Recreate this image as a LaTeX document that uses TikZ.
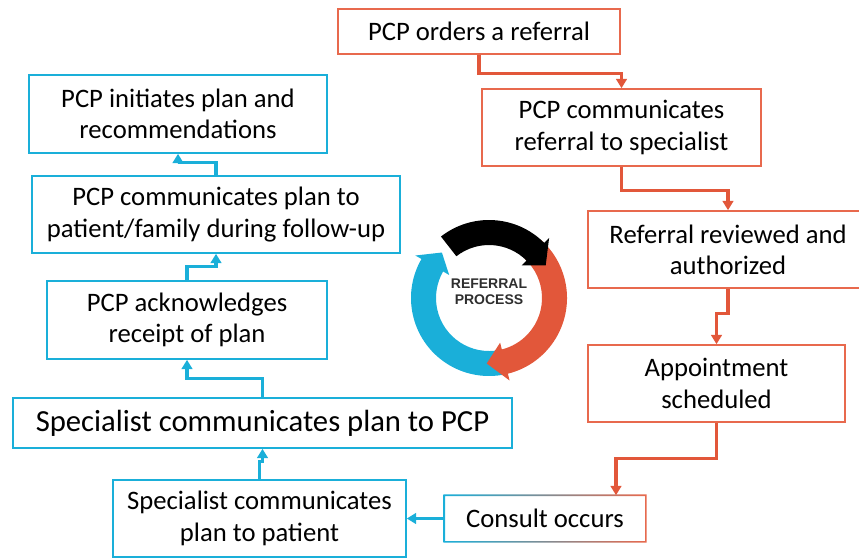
\documentclass[tikz,border=0pt]{standalone}
\usepackage{fontspec}
\setmainfont{Carlito}
\newfontfamily\cyclefont{Liberation Sans}
\usetikzlibrary{arrows.meta,calc}

\definecolor{refred}{HTML}{E2573A}
\definecolor{boxred}{HTML}{E8694D}
\definecolor{refblue}{HTML}{1AAFD9}
\definecolor{cyctext}{HTML}{2E2E2E}

\tikzset{
  redbox/.style={draw=boxred, line width=1.2pt, align=center, inner sep=0pt,
    font=\fontsize{20}{23.5}\selectfont},
  bluebox/.style={redbox, draw=refblue},
  redline/.style={draw=refred, line width=2.5pt, -{Triangle[width=8pt,length=7pt]}},
  blueline/.style={redline, draw=refblue}
}

\begin{document}
\begin{tikzpicture}[x=0.75pt,y=-0.75pt]
  \useasboundingbox (0,0) rectangle (859,558);

  % referral side
  \node[redbox, minimum width=211.5pt, minimum height=33.75pt] (orders) at (479,31.5) {PCP orders a referral};
  \node[redbox, minimum width=209.25pt, minimum height=57.75pt] (commRef) at (621.5,127.5) {PCP communicates\\referral to specialist};
  \node[redbox, minimum width=210pt, minimum height=57.75pt] (reviewed) at (728,249.5) {Referral reviewed and\\authorized};
  \node[redbox, minimum width=192.75pt, minimum height=57.75pt] (appt) at (716.5,383.5) {Appointment\\scheduled};
  \node[redbox, draw=none, minimum width=150pt, minimum height=33.75pt] (consult) at (545,518.5) {Consult occurs};
  \shade[left color=refblue, right color=boxred, even odd rule]
    ($(consult.south west)+(-0.8,0.8)$) rectangle ($(consult.north east)+(0.8,-0.8)$)
    ($(consult.south west)+(0.8,-0.8)$) rectangle ($(consult.north east)+(-0.8,0.8)$);

  % plan side
  \node[bluebox, minimum width=219.75pt, minimum height=57.75pt] (specPat) at (259.5,518.5) {Specialist communicates\\plan to patient};
  \node[bluebox, minimum width=374.25pt, minimum height=37.5pt, font=\fontsize{23}{27}\selectfont] (specPCP) at (262.5,423) {Specialist communicates plan to PCP};
  \node[bluebox, minimum width=210pt, minimum height=58.5pt] (ack) at (187,320) {PCP acknowledges\\receipt of plan};
  \node[bluebox, minimum width=276pt, minimum height=57.75pt] (commPlan) at (216,214.5) {PCP communicates plan to\\patient/family during follow-up};
  \node[bluebox, minimum width=223.5pt, minimum height=58.5pt] (initiates) at (178,114) {PCP initiates plan and\\recommendations};

  \draw[redline] (orders.south) -- ++(0,19) -| (commRef.north);
  \draw[redline] (commRef.south) -- ++(0,24) -| (reviewed.north);
  \draw[redline] (reviewed.south) -- ++(0,25) -| (appt.north);
  \draw[redline] (appt.south) -- ++(0,36) -| ($(consult.north)+(71,0)$);

  \draw[blueline] (consult.west) -- (specPat.east);
  \draw[blueline] (specPat.north) -- ++(0,-18) -| (specPCP.south);
  \draw[blueline] (specPCP.north) -- ++(0,-19) -| (ack.south);
  \draw[blueline] (ack.north) -- ++(0,-14) -| (commPlan.south);
  \draw[blueline] (commPlan.north) -- ++(0,-13) -| (initiates.south);

  % cycle in the middle
  \begin{scope}[shift={(489,298)}, yscale=-1]
    \foreach \col/\a/\b/\t in {refblue/-78/-210/-224, refred/48/-76/-92, black/128/45/30} {
      \fill[\col] (\a:53) arc[start angle=\a, end angle=\b, radius=53] -- (\b:46)
        -- (\t:65.5) -- (\b:85) -- (\b:78) arc[start angle=\b, end angle=\a, radius=78] -- cycle;
    }
  \end{scope}
  \node[font=\cyclefont\bfseries\fontsize{10.5}{12}\selectfont, text=cyctext, align=center] (cycLabel) at (489,292) {REFERRAL\\PROCESS};
\end{tikzpicture}
\end{document}
